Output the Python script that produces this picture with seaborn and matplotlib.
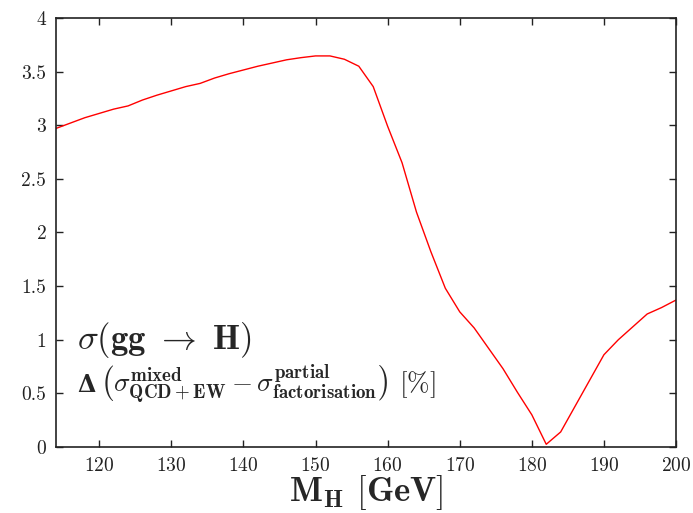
import matplotlib
matplotlib.use('Agg')
import matplotlib.pyplot as plt
import seaborn as sns
import pandas as pd

# Higgs mass (GeV) and relative difference (%)
masses = [114, 116, 118, 120, 122, 124, 126, 128, 130, 132, 134, 136, 138, 140,
          142, 144, 146, 148, 150, 152, 154, 156, 158, 160, 162, 164, 166, 168,
          170, 172, 174, 176, 178, 180, 182, 184, 186, 188, 190, 192, 194, 196,
          198, 200]
delta = [2.97, 3.02, 3.07, 3.11, 3.15, 3.18, 3.235, 3.28, 3.32, 3.36, 3.39, 3.44,
         3.48, 3.515, 3.55, 3.58, 3.61, 3.63, 3.646, 3.646, 3.615, 3.55, 3.36,
         2.99, 2.65, 2.19, 1.82, 1.48, 1.26, 1.11, 0.92, 0.73, 0.51, 0.30, 0.025,
         0.14, 0.38, 0.62, 0.86, 1.00, 1.12, 1.24, 1.30, 1.37]
x_ticks = [120, 130, 140, 150, 160, 170, 180, 190, 200]
y_ticks = [0, 0.5, 1, 1.5, 2, 2.5, 3, 3.5, 4]
y_tick_labels = ['0', '0.5', '1', '1.5', '2', '2.5', '3', '3.5', '4']

df = pd.DataFrame({'mh': masses, 'delta': delta})

sns.set_style('ticks')
plt.rcParams['font.family'] = ['cmr10', 'DejaVu Serif']
plt.rcParams['mathtext.fontset'] = 'cm'
plt.rcParams['axes.formatter.use_mathtext'] = True
plt.rcParams['axes.unicode_minus'] = False

fig = plt.figure(figsize=(6.93, 5.13), dpi=100)
ax = fig.add_axes([0.0808, 0.1287, 0.8947, 0.8363])

sns.lineplot(data=df, x='mh', y='delta', color='#ff0000', linewidth=1.0, ax=ax)

ax.set_xlim(114, 200)
ax.set_ylim(0, 4)
ax.set_xticks(x_ticks)
ax.set_yticks(y_ticks)
ax.set_yticklabels(y_tick_labels)
ax.tick_params(direction='in', top=True, right=True, length=5, width=1,
               labelsize=14, colors='#222222', pad=7)
for s in ax.spines.values():
    s.set_color('#222222')
    s.set_linewidth(1.2)

ax.set_xlabel(r'$\mathbf{M_H}$ $\mathbf{[GeV]}$', fontsize=25, labelpad=-1)
ax.set_ylabel('')

ax.text(0.034, 0.249, r'$\sigma(\mathbf{gg}\ \rightarrow\ \mathbf{H})$',
        transform=ax.transAxes, fontsize=25, va='center', ha='left')
# bold Delta (the cm math fonts have no bold greek)
ax.text(0.034, 0.145, '\u0394', family='DejaVu Serif', weight='bold',
        transform=ax.transAxes, fontsize=17, va='center', ha='left')
ax.text(0.071, 0.145,
        r'$\left(\sigma^{\mathbf{mixed}}_{\mathbf{QCD+EW}}'
        r' - \sigma^{\mathbf{partial}}_{\mathbf{factorisation}}\right)$ [%]',
        transform=ax.transAxes, fontsize=19.5, va='center', ha='left')

plt.savefig('out.png', dpi=100)
